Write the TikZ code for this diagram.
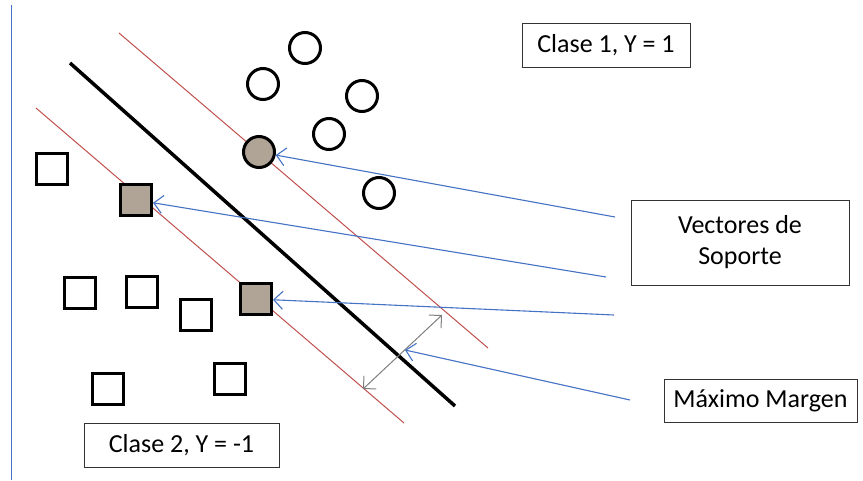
\documentclass[tikz,border=0pt]{standalone}
\usepackage{fontspec}
\setmainfont{Carlito}
\usetikzlibrary{arrows.meta}
\usetikzlibrary{positioning}

\definecolor{hypred}{RGB}{192,80,77}
\definecolor{vecblue}{RGB}{68,114,196}
\definecolor{marggray}{RGB}{127,127,127}
\definecolor{suppfill}{RGB}{176,164,150}

\tikzset{
  circ/.style={circle,draw=black,line width=3pt,minimum size=31pt,inner sep=0pt},
  sqr/.style={rectangle,draw=black,line width=3pt,minimum size=31pt,inner sep=0pt},
  supp/.style={fill=suppfill},
  lbl/.style={rectangle,draw=black!80,line width=0.8pt,font=\fontsize{26}{31}\selectfont,align=center,inner sep=0pt},
  marg/.style={hypred,line width=1pt},
  vec/.style={vecblue,line width=1.1pt,-{Straight Barb[length=9pt,width=18pt]}},
}

\begin{document}
\begin{tikzpicture}[x=1pt,y=-1pt]
\useasboundingbox (0,0) rectangle (863,480);
\draw[vecblue,line width=1pt] (11,5) -- (11,480);

% margenes y hiperplano
\draw[marg] (119,33) -- (488,348);
\draw[marg] (36,108) -- (404,423);
\draw[black,line width=3.5pt] (70,63) -- (455,406);

% clase 1
\node[circ] (c1) at (305,48) {};
\node[circ] (c2) at (263,84) {};
\node[circ] (c3) at (362,96) {};
\node[circ] (c4) at (329,134) {};
\node[circ,supp] (cs) at (259,152) {};
\node[circ] (c5) at (379,193) {};

% clase 2
\node[sqr] (s1) at (52,169) {};
\node[sqr,supp] (ss1) at (136,200) {};
\node[sqr] (s2) at (80,293) {};
\node[sqr] (s3) at (142,292) {};
\node[sqr] (s4) at (196,315) {};
\node[sqr,supp] (ss2) at (256,299) {};
\node[sqr] (s5) at (108,389) {};
\node[sqr] (s6) at (230,379) {};

% etiquetas
\node[lbl,minimum width=168pt,minimum height=44pt] (cl1) at (606,45) {Clase 1, Y = 1};
\node[lbl,minimum width=195pt,minimum height=44pt] (cl2) at (181.5,445) {Clase 2, Y = -1};
\node[lbl,minimum width=218pt,minimum height=85pt] (vs) at (740,242.5) {Vectores de\\Soporte};
\node[lbl,minimum width=193pt,minimum height=43pt] (mm) at (760.5,400.5) {Máximo Margen};

% flechas
\coordinate (v1) at (615,217);
\coordinate (v2) at (606,277);
\coordinate (v3) at (614,315);
\coordinate (v4) at (630,400);
\coordinate (m1) at (363,389);
\coordinate (m2) at (442,315);
\coordinate (mc) at (405,350);
\draw[marggray,line width=1pt,{Straight Barb[length=9pt,width=18pt]}-{Straight Barb[length=9pt,width=18pt]}] (m1) -- (m2);
\draw[vec] (v1) -- (cs);
\draw[vec] (v2) -- (ss1);
\draw[vec] (v3) -- (ss2);
\draw[vec] (v4) -- (mc);

\end{tikzpicture}
\end{document}
